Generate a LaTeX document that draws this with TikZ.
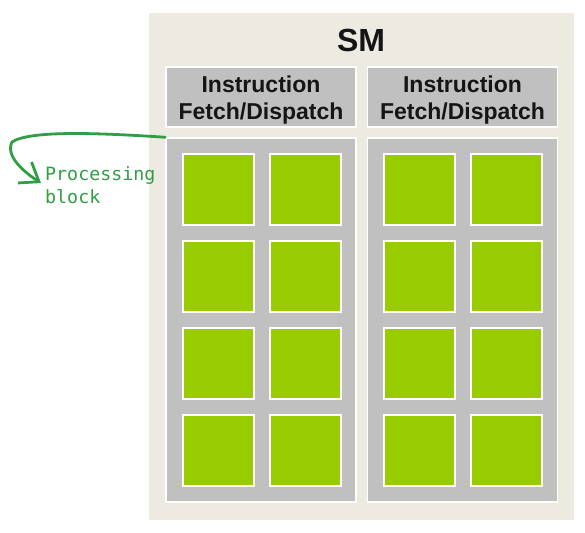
\documentclass[tikz,border=0pt]{standalone}
\usepackage{fontspec}
\setmainfont{Liberation Sans}
\newfontfamily\notefont{DejaVu Sans Mono}
\usetikzlibrary{arrows.meta}

\definecolor{smbeige}{HTML}{EDEBE1}
\definecolor{blkgray}{HTML}{C0C0C0}
\definecolor{coregreen}{HTML}{99CC00}
\definecolor{notegreen}{HTML}{2F9E44}
\definecolor{inktext}{HTML}{151515}

\tikzset{
  smframe/.style={rectangle, fill=smbeige, draw=none, inner sep=0pt,
                  minimum width=425pt, minimum height=507pt},
  fetchbox/.style={rectangle, fill=blkgray, draw=white, line width=1.5pt,
                   inner sep=0pt, minimum width=190pt, minimum height=60pt},
  fetchtext/.style={align=center, text=inktext, inner sep=0pt, yshift=-3pt,
                    font=\bfseries\fontsize{23}{27.5}\selectfont},
  procblock/.style={rectangle, fill=blkgray, draw=white, line width=1.5pt,
                    inner sep=0pt, minimum width=190pt, minimum height=364pt},
  core/.style={rectangle, fill=coregreen, draw=white, line width=1.5pt,
               inner sep=0pt, minimum size=71pt},
  note/.style={text=notegreen, align=left, inner sep=0pt,
               font=\notefont\fontsize{18.3}{23}\selectfont},
  notearrow/.style={draw=notegreen, line width=2.8pt, line cap=round,
                    line join=round, -{Straight Barb[length=17pt,width=25pt]}}
}

\begin{document}
\begin{tikzpicture}[x=1pt,y=-1pt]
  \useasboundingbox (0,0) rectangle (585,532);

  % outer SM frame with title
  \node[smframe] (sm) at (361.5,266.5) {};
  \node[font=\bfseries\fontsize{32}{36}\selectfont, text=inktext, inner sep=0pt]
       (smtitle) at (361,40) {SM};

  % instruction fetch/dispatch units
  \node[fetchbox, label={[fetchtext]center:Instruction\\Fetch/Dispatch}]
       (fetch-L) at (261,97) {};
  \node[fetchbox, label={[fetchtext]center:Instruction\\Fetch/Dispatch}]
       (fetch-R) at (462.5,97) {};

  % processing blocks
  \node[procblock] (blk-L) at (261,320) {};
  \node[procblock] (blk-R) at (462.5,320) {};

  % cores, two columns by four rows in each block
  \foreach \bx/\side in {218.5/L, 419.5/R}
    \foreach \c in {0,1}
      \foreach \r in {0,...,3}
        \node[core] (core-\side-\c-\r) at (\bx+87*\c, 189.5+87*\r) {};

  % annotation
  \node[note, anchor=north west] (blklabel) at (45,166) {Processing\\block};
  \coordinate (tip) at (41,183);
  \draw[notearrow] (blk-L.north west) .. controls (100,133) and (30,130) .. (12,142)
                   .. controls (5,156) and (24,172) .. (tip);
\end{tikzpicture}
\end{document}
